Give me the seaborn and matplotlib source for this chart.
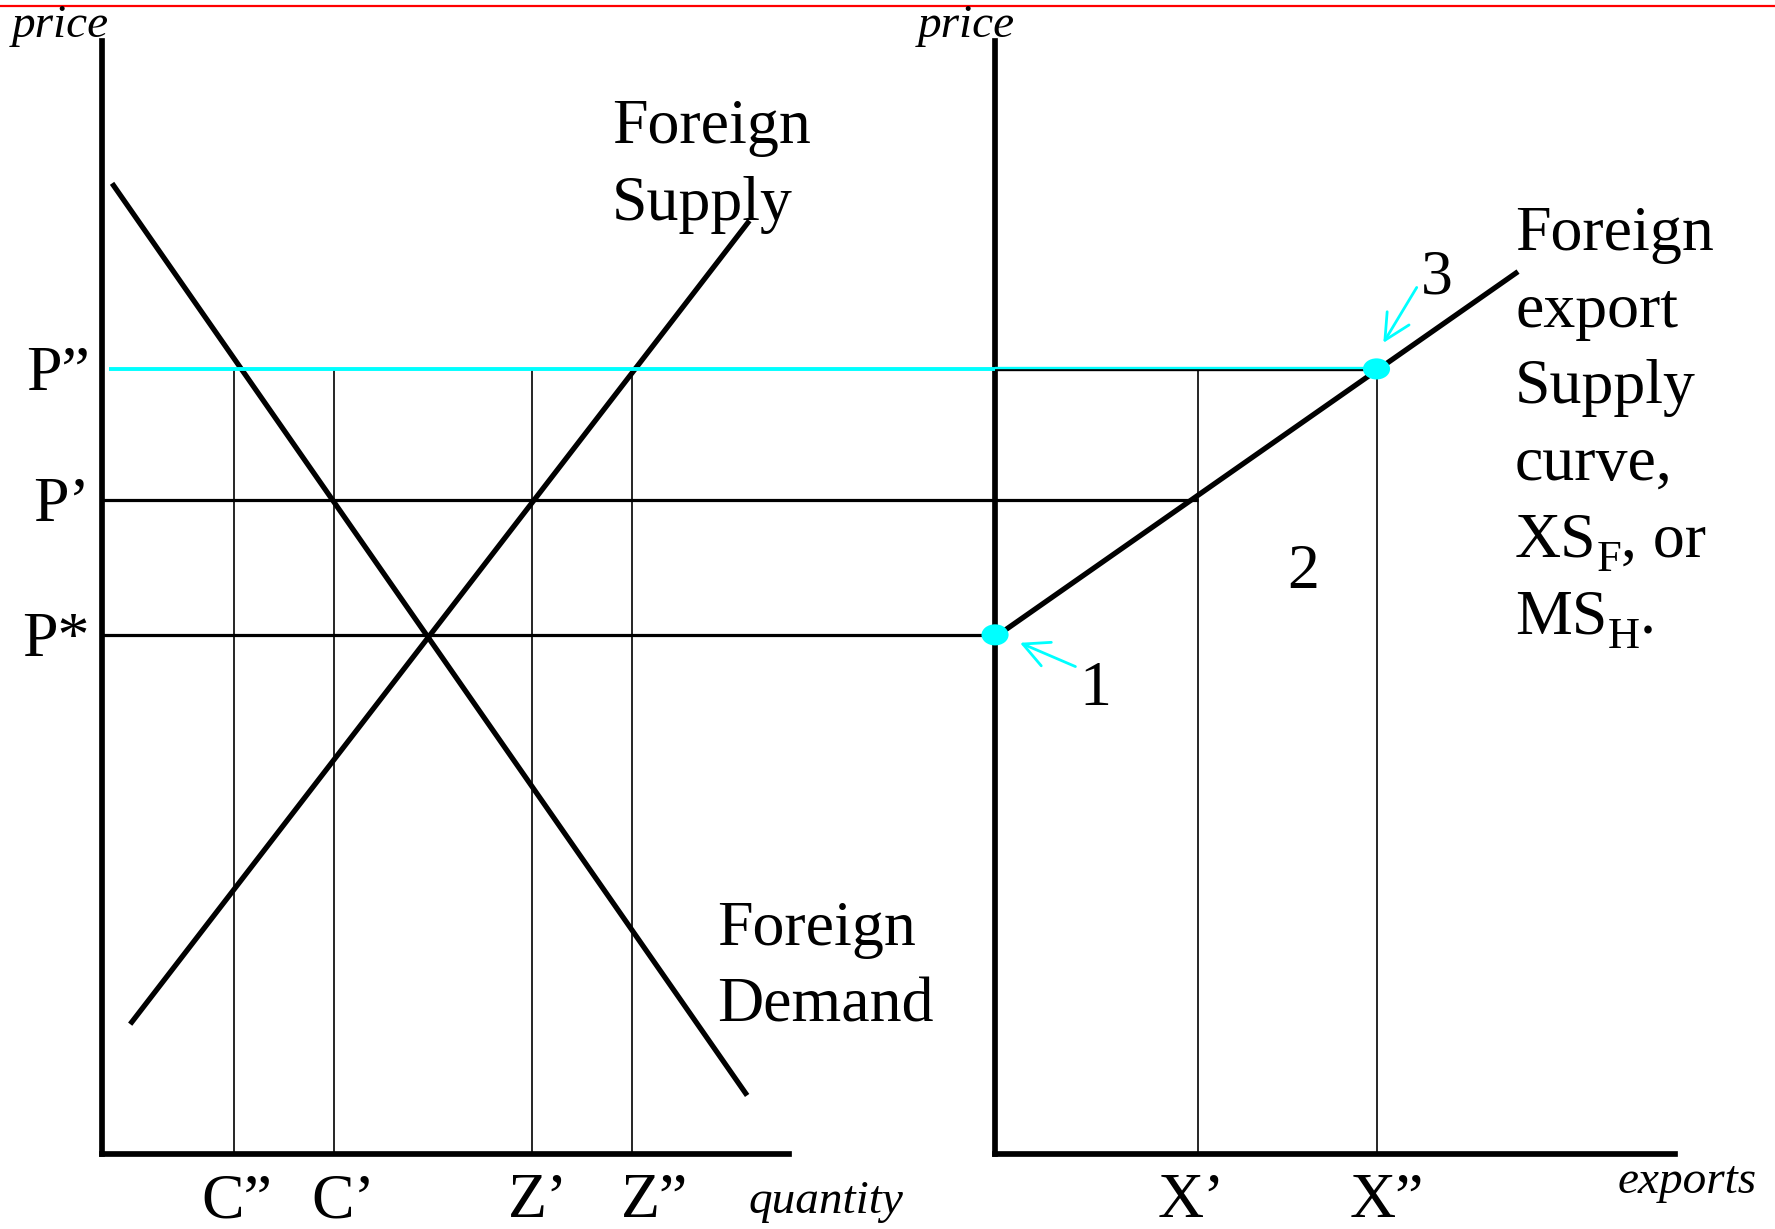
import numpy as np
import pandas as pd
import matplotlib
matplotlib.use("Agg")
import matplotlib.pyplot as plt
import matplotlib.transforms as mtransforms
from matplotlib.path import Path
import seaborn as sns

# price levels: P*, P', P''
price_labels = ["P*", "P\u2019", "P\u201d"]
price_levels = [4.59, 5.78, 6.94]

# foreign market (left panel)
demand_q = [0.09, 5.70]
demand_p = [8.58, 0.52]
supply_q = [0.25, 5.72]
supply_p = [1.15, 8.25]

qty_labels = ["C\u201d", "C\u2019", "Z\u2019", "Z\u201d"]
qty_values = [1.17, 2.05, 3.80, 4.68]

# export market (right panel), measured from its own origin
export_labels = ["X\u2019", "X\u201d"]
export_values = [1.79, 3.37]
xs_q = [0.0, 4.62]
xs_p = [4.57, 7.80]

# numbered points on the export supply curve (1 and 3)
point_q = [0.0, 3.37]
point_p = [4.59, 6.94]

RIGHT_X0 = 7.89          # where the right panel's origin sits
CYAN = "#00FFFF"
BIG = 46
SUB = 32
SMALL = 34

sns.set_theme(style="white")
plt.rcParams["font.family"] = ["Liberation Serif", "DejaVu Serif"]
plt.rcParams["text.color"] = "black"

fig = plt.figure(figsize=(17.75, 12.29), dpi=100)
ax = fig.add_axes([0, 0, 1, 1])
ax.set_xlim(-0.90, 14.78)
ax.set_ylim(-0.66, 10.20)
ax.axis("off")

# red rule at the very top
ax.axhline(10.15, color="red", lw=1.6)

# axes of both panels
ax_kw = dict(color="black", lw=4.1, solid_capstyle="projecting")
ax.plot([0, 0], [0, 9.84], **ax_kw)
ax.plot([0, 6.07], [0, 0], **ax_kw)
ax.plot([RIGHT_X0, RIGHT_X0], [0, 9.84], **ax_kw)
ax.plot([RIGHT_X0, RIGHT_X0 + 6.01], [0, 0], **ax_kw)

p_star, p_one, p_two = price_levels
x_one, x_two = export_values

# thin drop lines from P''
ax.vlines(qty_values, 0, p_two, color="black", lw=1.2)
ax.vlines([RIGHT_X0 + v for v in export_values], 0, p_two, color="black", lw=1.2)

# price lines
ax.hlines(p_star, 0, RIGHT_X0, color="black", lw=2.3)
ax.hlines(p_one, 0, RIGHT_X0 + x_one, color="black", lw=2.3)
ax.hlines(p_two, 0.066, RIGHT_X0, color=CYAN, lw=2.8, zorder=4)
below = mtransforms.offset_copy(ax.transData, fig=fig, x=0, y=-1.3, units="dots")
above = mtransforms.offset_copy(ax.transData, fig=fig, x=0, y=1.3, units="dots")
ax.hlines(p_two, RIGHT_X0, RIGHT_X0 + x_two, color="black", lw=1.7, transform=below)
ax.hlines(p_two, RIGHT_X0, RIGHT_X0 + x_two, color=CYAN, lw=1.7, transform=above, zorder=4)

# demand, supply and export supply curves
curves = pd.DataFrame({
    "q": demand_q + supply_q + [RIGHT_X0 + q for q in xs_q],
    "p": demand_p + supply_p + xs_p,
    "curve": ["demand"] * 2 + ["supply"] * 2 + ["xs"] * 2,
})
sns.lineplot(data=curves, x="q", y="p", units="curve", estimator=None, sort=False,
             color="black", lw=3.8, solid_capstyle="butt", ax=ax, legend=False)

# cyan points
ellipse = Path.unit_circle().transformed(mtransforms.Affine2D().scale(1, 0.78))
sns.scatterplot(x=[RIGHT_X0 + q for q in point_q], y=point_p, marker=ellipse, s=380,
                color=CYAN, edgecolor="none", zorder=6, ax=ax)

# arrows pointing at points 1 and 3
arrow_kw = dict(arrowstyle="->, head_length=0.4, head_width=0.2", color=CYAN, lw=2,
                mutation_scale=46, shrinkA=0, shrinkB=0)
ax.annotate("", xy=(8.11, 4.52), xytext=(8.60, 4.31), arrowprops=arrow_kw)
ax.annotate("", xy=(11.32, 7.17), xytext=(11.615, 7.66), arrowprops=arrow_kw)
ax.text(8.78, 3.97, "1", fontsize=BIG, ha="center", va="baseline")
ax.text(10.61, 5.00, "2", fontsize=BIG, ha="center", va="baseline")
ax.text(11.79, 7.61, "3", fontsize=BIG, ha="center", va="baseline")

# price labels on the left axis
for lab, lvl in zip(price_labels, price_levels):
    ax.text(-0.105, lvl - 0.185, lab, fontsize=BIG, ha="right", va="baseline")

# quantity labels under the axes
qty_nudge = [0.02, 0.08, 0.05, 0.20]
for lab, v, dx in zip(qty_labels, qty_values, qty_nudge):
    ax.text(v + dx, -0.555, lab, fontsize=BIG, ha="center", va="baseline")
exp_nudge = [-0.06, 0.09]
for lab, v, dx in zip(export_labels, export_values, exp_nudge):
    ax.text(RIGHT_X0 + v + dx, -0.555, lab, fontsize=BIG, ha="center", va="baseline")

# axis titles
ax.text(-0.37, 9.87, "price", fontsize=SMALL, style="italic", ha="center", va="baseline")
ax.text(RIGHT_X0 - 0.25, 9.87, "price", fontsize=SMALL, style="italic", ha="center", va="baseline")
ax.text(6.40, -0.52, "quantity", fontsize=SMALL, style="italic", ha="center", va="baseline")
ax.text(RIGHT_X0 + 6.115, -0.34, "exports", fontsize=SMALL, style="italic", ha="center", va="baseline")

# curve captions
ax.text(4.503, 8.934, "Foreign", fontsize=BIG, va="baseline")
ax.text(4.503, 8.257, "Supply", fontsize=BIG, va="baseline")
ax.text(5.437, 1.852, "Foreign", fontsize=BIG, va="baseline")
ax.text(5.437, 1.175, "Demand", fontsize=BIG, va="baseline")

xs_left = RIGHT_X0 + 4.594
xs_base = [7.99 - 0.677 * i for i in range(6)]
for line, y in zip(["Foreign", "export", "Supply", "curve,"], xs_base[:4]):
    ax.text(xs_left, y, line, fontsize=BIG, va="baseline")


def with_subscript(y, head, sub, tail):
    # head text, lowered smaller subscript, then the rest on the same baseline
    t = ax.text(xs_left, y, head, fontsize=BIG, va="baseline")
    s = ax.annotate(sub, xy=(1, y), xycoords=(t, "data"), xytext=(0, -10.5),
                    textcoords="offset points", fontsize=SUB, va="baseline", ha="left")
    ax.annotate(tail, xy=(1, y), xycoords=(s, "data"), fontsize=BIG,
                va="baseline", ha="left")


with_subscript(xs_base[4], "XS", "F", ", or")
with_subscript(xs_base[5], "MS", "H", ".")

fig.savefig("out.png", dpi=100)
